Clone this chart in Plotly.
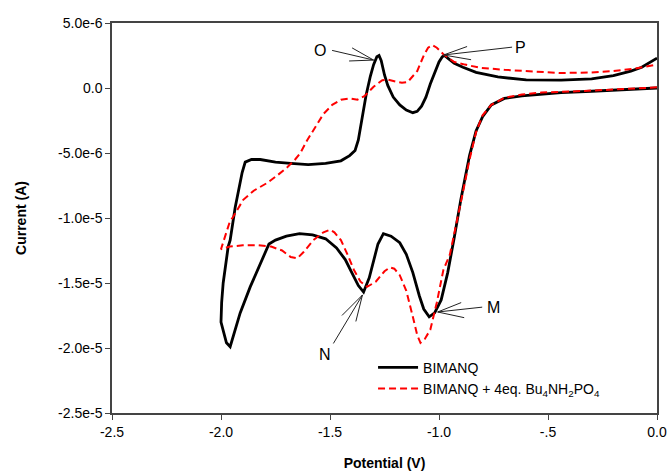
import plotly.graph_objects as go

# ---- data (potential in V, current in microamps) ----
bimanq_v = [0.0, -0.10, -0.20, -0.30, -0.44, -0.53, -0.62, -0.70, -0.76, -0.80, -0.83, -0.86,
            -0.90, -0.93, -0.96, -0.99, -1.02, -1.045, -1.07, -1.09, -1.12, -1.15, -1.18, -1.22,
            -1.255, -1.28, -1.30, -1.32, -1.346, -1.37, -1.40, -1.43, -1.47, -1.52, -1.58, -1.64,
            -1.70, -1.75, -1.78, -1.82, -1.866, -1.912, -1.945, -1.958, -1.975, -1.99, -2.0,
            -1.997, -1.99, -1.967, -1.958, -1.935, -1.903, -1.889, -1.86, -1.82, -1.75, -1.68,
            -1.60, -1.52, -1.45, -1.41, -1.385, -1.37, -1.355, -1.335, -1.315, -1.30, -1.285,
            -1.275, -1.265, -1.25, -1.235, -1.21, -1.18, -1.15, -1.12, -1.10, -1.08, -1.06,
            -1.04, -1.02, -1.0, -0.985, -0.975, -0.96, -0.93, -0.89, -0.83, -0.73, -0.60,
            -0.44, -0.30, -0.20, -0.12, -0.07, 0.0]
bimanq_i = [0.0, -0.1, -0.2, -0.25, -0.35, -0.45, -0.6, -0.8, -1.3, -2.2, -3.3, -5.2,
            -8.6, -11.5, -14.2, -16.3, -17.3, -17.6, -17.0, -16.0, -14.2, -12.8, -11.9, -11.4,
            -11.2, -12.0, -13.2, -14.6, -15.7, -15.2, -14.2, -13.2, -12.3, -11.6, -11.3, -11.2,
            -11.4, -11.7, -12.0, -13.5, -15.3, -17.3, -19.2, -19.9, -19.6, -18.6, -18.0,
            -16.5, -15.0, -12.2, -11.7, -9.2, -6.5, -5.7, -5.5, -5.5, -5.7, -5.8,
            -5.9, -5.8, -5.6, -5.2, -4.8, -4.0, -2.6, -0.6, 0.9, 1.8, 2.4,
            2.5, 2.1, 1.0, 0.2, -0.7, -1.3, -1.7, -1.9, -1.8, -1.4, -0.7,
            0.3, 1.2, 2.0, 2.4, 2.5, 2.3, 1.9, 1.6, 1.2, 0.85, 0.62,
            0.6, 0.7, 0.95, 1.3, 1.6, 2.3]

phos_v = [0.0, -0.10, -0.20, -0.30, -0.44, -0.53, -0.62, -0.70, -0.76, -0.80, -0.83, -0.86,
          -0.89, -0.92, -0.95, -0.98, -1.01, -1.04, -1.065, -1.085, -1.10, -1.12, -1.15,
          -1.18, -1.205, -1.225, -1.25, -1.29, -1.33, -1.36, -1.39, -1.42, -1.45, -1.48,
          -1.50, -1.53, -1.576, -1.62, -1.65, -1.68, -1.72, -1.77, -1.83, -1.90, -1.96, -2.0,
          -1.98, -1.96, -1.944, -1.92, -1.898, -1.85, -1.788, -1.74, -1.696, -1.66, -1.636,
          -1.604, -1.567, -1.53, -1.49, -1.45, -1.41, -1.374, -1.34, -1.30, -1.26, -1.236,
          -1.20, -1.17, -1.144, -1.10, -1.07, -1.05, -1.03, -1.01, -0.98, -0.95, -0.93,
          -0.88, -0.81, -0.70, -0.60, -0.50, -0.44, -0.30, -0.20, -0.10, 0.0]
phos_i = [0.05, -0.05, -0.15, -0.2, -0.3, -0.35, -0.5, -0.75, -1.3, -2.1, -3.4, -5.5,
          -8.0, -10.5, -12.8, -14.0, -16.5, -18.6, -19.3, -19.6, -19.0, -17.6, -15.6,
          -14.4, -13.9, -13.8, -14.1, -14.9, -15.3, -14.9, -14.0, -12.8, -11.7, -11.1,
          -10.9, -11.1, -11.7, -12.6, -13.1, -13.0, -12.5, -12.2, -12.1, -12.1, -12.2, -12.4,
          -11.3, -10.3, -9.9, -9.2, -8.6, -7.9, -7.3, -6.7, -6.1, -5.5, -5.0,
          -4.0, -3.0, -2.0, -1.3, -0.9, -0.8, -0.9, -0.6, 0.1, 0.6, 0.65,
          0.5, 0.4, 0.45, 1.3, 2.5, 3.1, 3.3, 3.1, 2.6, 2.2, 2.0,
          1.8, 1.55, 1.4, 1.3, 1.2, 1.15, 1.2, 1.3, 1.5, 1.8]

x_ticks = [-2.5, -2.0, -1.5, -1.0, -0.5, 0.0]
x_ticktext = ["-2.5", "-2.0", "-1.5", "-1.0", "-.5", "0.0"]
y_ticks = [5e-6, 0.0, -5e-6, -1e-5, -1.5e-5, -2e-5, -2.5e-5]
y_ticktext = ["5.0e-6", "0.0", "-5.0e-6", "-1.0e-5", "-1.5e-5", "-2.0e-5", "-2.5e-5"]

series_names = ["BIMANQ", "BIMANQ + 4eq. Bu<sub>4</sub>NH<sub>2</sub>PO<sub>4</sub>"]

# peak labels: name, tip (V, uA), label position (V, uA)
peak_labels = [
    ("O", -1.300, 2.15, -1.544, 2.92),
    ("P", -0.979, 2.54, -0.625, 3.15),
    ("M", -1.006, -17.23, -0.749, -16.9),
    ("N", -1.351, -15.92, -1.521, -20.5),
]
# arrow line tails in pixel offsets from tip (main line, barb, barb)
arrow_tails = {
    "O": [(-43, -10), (-23, -13), (-26, 1)],
    "P": [(70, -8), (25, -9), (29, 5)],
    "M": [(46, -5), (25, -10), (28, 6)],
    "N": [(-30, 50), (-22, 22), (-7, 28)],
}

FONT = "Liberation Sans, Arial, sans-serif"

fig = go.Figure()
fig.add_trace(go.Scatter(
    x=bimanq_v, y=[v * 1e-6 for v in bimanq_i], mode="lines", name=series_names[0],
    line=dict(color="black", width=2.8)))
fig.add_trace(go.Scatter(
    x=phos_v, y=[v * 1e-6 for v in phos_i], mode="lines", name=series_names[1],
    line=dict(color="#ff0000", width=2, dash="7px,4px")))

annotations = []
for name, tv, ti, lv, li in peak_labels:
    for ax, ay in arrow_tails[name]:
        annotations.append(dict(x=tv, y=ti * 1e-6, xref="x", yref="y", ax=ax, ay=ay,
                                showarrow=True, arrowhead=0, arrowwidth=1,
                                arrowcolor="#222222", text=""))
    annotations.append(dict(x=lv, y=li * 1e-6, xref="x", yref="y", text=name,
                            showarrow=False, font=dict(size=16, color="black", family=FONT)))

fig.update_layout(
    width=670, height=473,
    margin=dict(l=112, r=13, t=23, b=60),
    paper_bgcolor="white", plot_bgcolor="white",
    font=dict(family=FONT, size=14, color="black"),
    showlegend=True,
    legend=dict(x=0.479, y=0.157, xanchor="left", yanchor="top",
                bgcolor="rgba(0,0,0,0)", font=dict(size=14, family=FONT),
                tracegroupgap=0, itemwidth=40),
    annotations=annotations,
)
fig.update_xaxes(range=[-2.5, 0.0], tickvals=x_ticks, ticktext=x_ticktext,
                 showgrid=False, zeroline=False, showline=True, mirror=True,
                 linecolor="#444444", linewidth=1.5, ticks="outside", ticklen=5,
                 tickcolor="#444444", automargin=False, tickfont=dict(size=14),
                 title=dict(text="<b>Potential (V)</b>", font=dict(size=14), standoff=20))
fig.update_yaxes(range=[-2.5e-5, 5e-6], tickvals=y_ticks, ticktext=y_ticktext,
                 showgrid=False, zeroline=False, showline=True, mirror=True,
                 linecolor="#444444", linewidth=1.5, ticks="outside", ticklen=5,
                 tickcolor="#444444", automargin=False, tickfont=dict(size=14),
                 title=dict(text="<b>Current (A)</b>", font=dict(size=14), standoff=28))

# remove the page's default body margin so the 670x473 figure fills the window exactly
fig.write_html(
    "out.html",
    config={"displayModeBar": False},
    post_script="document.body.style.margin='0';document.body.style.overflow='hidden';"
                "document.documentElement.style.overflow='hidden';",
)
